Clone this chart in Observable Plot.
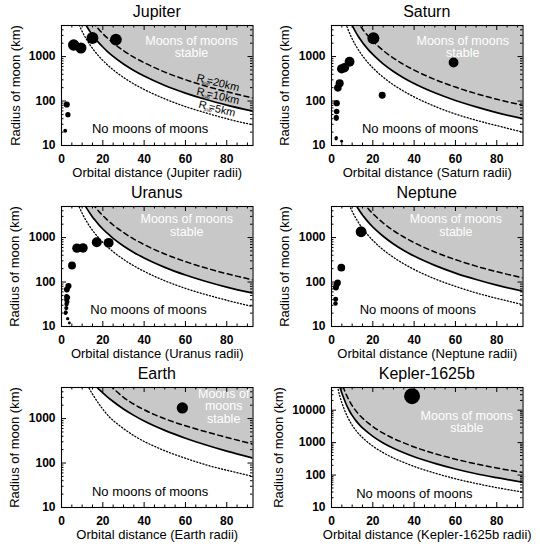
<!DOCTYPE html>
<html><head><meta charset="utf-8">
<script src="https://cdn.jsdelivr.net/npm/d3@7"></script>
<script src="https://cdn.jsdelivr.net/npm/@observablehq/plot@0.6"></script>
<style>
body{margin:0;background:#fff;}
#fig{position:relative;width:540px;height:549px;font-family:"Liberation Sans",Arial,Helvetica,sans-serif;overflow:hidden;background:#fff;}
.panel{position:absolute;width:270px;height:183px;}
.panel svg{position:absolute;top:0;left:0;}
.title{position:absolute;top:2px;left:61px;width:191.5px;text-align:center;font-size:16px;line-height:20px;color:#000;white-space:nowrap;z-index:2;}
</style></head><body><div id="fig"></div>
<script>
// ---------- tick values ----------
const xTicks = [0, 20, 40, 60, 80];
const xMinorTicks = [5, 10, 15, 25, 30, 35, 45, 50, 55, 65, 70, 75, 85, 90];
const yTicks = [10, 100, 1000];
const yMinorTicks = [20, 30, 40, 50, 60, 70, 80, 90, 200, 300, 400, 500, 600, 700, 800, 900, 2000, 3000, 4000];
const yTicksKepler = [10, 100, 1000, 10000];
const yMinorTicksKepler = [20, 30, 40, 50, 60, 70, 80, 90, 200, 300, 400, 500, 600, 700, 800, 900, 2000, 3000, 4000, 5000, 6000, 7000, 8000, 9000, 20000, 30000, 40000];

// ---------- panel names / labels ----------
const panelNames = ["Jupiter", "Saturn", "Uranus", "Neptune", "Earth", "Kepler-1625b"];
const xAxisLabels = ["Orbital distance (Jupiter radii)", "Orbital distance (Saturn radii)", "Orbital distance (Uranus radii)", "Orbital distance (Neptune radii)", "Orbital distance (Earth radii)", "Orbital distance (Kepler-1625b radii)"];
const yAxisLabel = "Radius of moon (km)";
const subLabelValues = ["20km", "10km", "5km"];

// ---------- moons (orbital distance, radius km) ----------
const jupiterMoonDist = [1.79, 2.54, 3.11, 5.90, 9.40, 14.97, 26.33];
const jupiterMoonRadius = [21.5, 83.5, 49.3, 1821.6, 1560.8, 2631.2, 2410.3];
const saturnMoonDist = [2.22, 2.29, 2.31, 2.35, 2.51, 2.51, 3.08, 3.95, 4.89, 4.89, 6.26, 8.74, 20.27, 24.55, 59.09];
const saturnMoonRadius = [14.1, 15.1, 43.1, 40.7, 58.1, 89.5, 198.2, 252.1, 531.1, 12.4, 561.4, 763.8, 2574.7, 135, 734.5];
const uranusMoonDist = [1.95, 2.10, 2.32, 2.42, 2.45, 2.52, 2.59, 2.74, 2.94, 2.99, 3.37, 3.81, 5.08, 7.47, 10.41, 17.07, 22.83];
const uranusMoonRadius = [20, 21, 26, 40, 32, 47, 68, 36, 45, 15, 81, 12, 236, 579, 585, 789, 761];
const neptuneMoonDist = [1.94, 2.02, 2.13, 2.50, 2.98, 4.75, 14.33];
const neptuneMoonRadius = [33, 41, 75, 88, 97, 210, 1353];
const earthMoonDist = [58.5];
const earthMoonRadius = [1737];
const keplerMoonDist = [39];
const keplerMoonRadius = [27000];

// ---------- stability curves ----------
const jupiter10kmX = [11, 12, 13, 14, 15, 16, 18, 20, 22, 25, 30, 35, 40, 50, 60, 70, 80, 92.7];
const jupiter10kmY = [5990, 4960, 4170, 3550, 3050, 2660, 2060, 1640, 1330, 1010, 680, 486, 364, 224, 151, 108, 81, 59];
const jupiter20kmX = [15, 16, 17, 18, 20, 22, 25, 30, 35, 40, 50, 60, 70, 80, 92.7];
const jupiter20kmY = [6100, 5320, 4660, 4120, 3280, 2670, 2020, 1360, 970, 730, 448, 302, 216, 162, 117];
const jupiter5kmX = [8, 9, 10, 11, 12, 13, 14, 15, 16, 18, 20, 22, 25, 30, 35, 40, 50, 60, 70, 80, 92.7];
const jupiter5kmY = [5980, 4630, 3680, 2990, 2480, 2080, 1770, 1530, 1330, 1030, 820, 666, 504, 340, 243, 182, 112, 75, 54, 40, 29];

const saturn10kmX = [9, 10, 11, 12, 13, 14, 15, 16, 18, 20, 22, 25, 30, 35, 40, 50, 60, 70, 80, 92.7];
const saturn10kmY = [6310, 5020, 4080, 3380, 2840, 2420, 2080, 1810, 1400, 1120, 908, 687, 463, 331, 248, 153, 103, 74, 55, 40];
const saturn20kmX = [12, 13, 14, 15, 16, 18, 20, 22, 25, 30, 35, 40, 50, 60, 70, 80, 92.7];
const saturn20kmY = [6760, 5680, 4830, 4160, 3620, 2800, 2230, 1820, 1370, 926, 662, 496, 306, 206, 147, 110, 80];
const saturn5kmX = [6, 7, 8, 9, 10, 11, 12, 14, 16, 18, 20, 22, 25, 30, 35, 40, 50, 60, 70, 80, 92.7];
const saturn5kmY = [7600, 5440, 4070, 3150, 2510, 2040, 1690, 1210, 906, 701, 558, 454, 344, 231, 166, 124, 76, 51, 37, 28, 20];

const uranus10kmX = [11, 12, 13, 14, 15, 16, 18, 20, 22, 25, 30, 35, 40, 50, 60, 70, 80, 92.7];
const uranus10kmY = [5710, 4730, 3980, 3380, 2910, 2540, 1960, 1560, 1270, 962, 648, 464, 347, 214, 144, 103, 77, 56];
const uranus20kmX = [15, 16, 17, 18, 20, 22, 25, 30, 35, 40, 50, 60, 70, 80, 92.7];
const uranus20kmY = [5820, 5070, 4450, 3930, 3130, 2540, 1920, 1300, 927, 694, 428, 288, 206, 154, 112];
const uranus5kmX = [8, 9, 10, 11, 12, 13, 14, 16, 18, 20, 22, 25, 30, 35, 40, 50, 60, 70, 80, 92.7];
const uranus5kmY = [5700, 4420, 3510, 2860, 2370, 1990, 1690, 1270, 981, 781, 636, 481, 324, 232, 174, 107, 72, 52, 39, 28];

const neptune10kmX = [11, 12, 13, 14, 15, 16, 18, 20, 22, 25, 30, 35, 40, 50, 60, 70, 80, 92.7];
const neptune10kmY = [6320, 5240, 4400, 3750, 3220, 2810, 2170, 1730, 1410, 1070, 717, 513, 384, 237, 159, 114, 85, 62];
const neptune20kmX = [15, 16, 17, 18, 20, 22, 25, 30, 35, 40, 50, 60, 70, 80, 92.7];
const neptune20kmY = [6450, 5620, 4920, 4350, 3460, 2820, 2130, 1440, 1030, 769, 474, 319, 228, 171, 124];
const neptune5kmX = [8, 9, 10, 11, 12, 13, 14, 16, 18, 20, 22, 25, 30, 35, 40, 50, 60, 70, 80, 92.7];
const neptune5kmY = [6320, 4890, 3890, 3160, 2620, 2200, 1870, 1400, 1090, 865, 704, 533, 359, 257, 192, 118, 80, 57, 43, 31];

const earth10kmX = [16, 16.5, 18, 20, 22, 25, 30, 35, 40, 50, 60, 70, 80, 92.7];
const earth10kmY = [5800, 5460, 4610, 3780, 3130, 2420, 1640, 1180, 880, 542, 362, 254, 185, 129];
const earth20kmX = [23.5, 24, 25, 27, 30, 35.7, 40, 45.3, 50, 54.9, 60, 66.2, 75.8, 85.4, 92.7];
const earth20kmY = [5700, 5400, 4830, 3950, 3000, 2020, 1580, 1210, 990, 820, 690, 565, 425, 325, 265];
const earth5kmX = [12.7, 13.2, 16, 19.6, 23, 27.6, 35.7, 46.9, 59.8, 72.6, 85.4, 92.7];
const earth5kmY = [5600, 5000, 3000, 1720, 1110, 726, 396, 217, 129, 84, 60, 50];

const kepler10kmX = [3.8, 4, 4.5, 5, 6, 7, 8, 9, 10, 12, 14, 16, 18, 20, 25, 30, 35, 40, 50, 60, 70, 80, 92.7];
const kepler10kmY = [61400, 55000, 42500, 33900, 22800, 15800, 11600, 8800, 6900, 4600, 3300, 2500, 1950, 1560, 980, 670, 490, 368, 229, 154, 110, 83, 60];
const kepler20kmX = [5.5, 6, 7, 8, 9, 10, 12, 14, 16, 18, 20, 25, 30, 35, 40, 50, 60, 70, 80, 92.7];
const kepler20kmY = [55000, 45600, 31600, 23200, 17600, 13800, 9200, 6600, 5000, 3900, 3120, 1960, 1340, 980, 736, 458, 309, 221, 165, 120];
const kepler5kmX = [2.9, 3.5, 4, 4.5, 5, 6, 7, 8, 9, 10, 12, 14, 16, 18, 20, 25, 30, 35, 40, 50, 60, 70, 80, 92.7];
const kepler5kmY = [55200, 36700, 27500, 21300, 16900, 11400, 7900, 5800, 4400, 3450, 2300, 1650, 1250, 975, 780, 490, 335, 245, 184, 115, 77, 55, 41, 30];

// ---------- build ----------
const zip = (xs, ys) => xs.map((x, i) => ({x, y: ys[i]}));
const moonsOf = (xs, rs) => xs.map((x, i) => ({x, y: rs[i], r: rs[i]}));

const panels = [
  {name: 0, left: 0, top: 0, c10: [jupiter10kmX, jupiter10kmY], c20: [jupiter20kmX, jupiter20kmY], c5: [jupiter5kmX, jupiter5kmY],
   moons: [jupiterMoonDist, jupiterMoonRadius], stable: {x: 62.9, y: 1650, text: "Moons of moons\nstable"}, none: {x: 42.9, y: 23.5}, sub: true, ylx: -46},
  {name: 1, left: 270, top: 0, c10: [saturn10kmX, saturn10kmY], c20: [saturn20kmX, saturn20kmY], c5: [saturn5kmX, saturn5kmY],
   moons: [saturnMoonDist, saturnMoonRadius], stable: {x: 63.5, y: 1650, text: "Moons of moons\nstable"}, none: {x: 42.9, y: 23.5}, ylx: -47},
  {name: 2, left: 0, top: 181, c10: [uranus10kmX, uranus10kmY], c20: [uranus20kmX, uranus20kmY], c5: [uranus5kmX, uranus5kmY],
   moons: [uranusMoonDist, uranusMoonRadius], stable: {x: 60.6, y: 1850, text: "Moons of moons\nstable"}, none: {x: 42.1, y: 23.7}, ylx: -47},
  {name: 3, left: 270, top: 181, c10: [neptune10kmX, neptune10kmY], c20: [neptune20kmX, neptune20kmY], c5: [neptune5kmX, neptune5kmY],
   moons: [neptuneMoonDist, neptuneMoonRadius], stable: {x: 60.2, y: 1850, text: "Moons of moons\nstable"}, none: {x: 41.8, y: 23.5}, ylx: -47},
  {name: 4, left: 0, top: 362, c10: [earth10kmX, earth10kmY], c20: [earth20kmX, earth20kmY], c5: [earth5kmX, earth5kmY],
   moons: [earthMoonDist, earthMoonRadius], stable: {x: 78.5, y: 1870, text: "Moons of\nmoons\nstable"}, none: {x: 42.9, y: 23}, ylx: -47},
  {name: 5, left: 270, top: 362, c10: [kepler10kmX, kepler10kmY], c20: [kepler20kmX, kepler20kmY], c5: [kepler5kmX, kepler5kmY],
   moons: [keplerMoonDist, keplerMoonRadius], stable: {x: 65.5, y: 4390, text: "Moons of moons\nstable"}, none: {x: 40.1, y: 26.4}, kepler: true, ylx: -52.5}
];

const FONT = "'Liberation Sans', Arial, Helvetica, sans-serif";
const W = 270, H = 183, mL = 61, mR = 17.5, mT = 25, mB = 38;
const FW = W - mL - mR, FH = H - mT - mB;

function subLabelMarks(x, y, value, angle) {
  const t = angle * Math.PI / 180, c = Math.cos(t), s = Math.sin(t);
  const off = (a, p) => ({dx: a * c - p * s, dy: a * s + p * c});
  const d = [{x, y}];
  const base = {x: "x", y: "y", textAnchor: "start", lineAnchor: "middle", rotate: angle, fill: "black", fontFamily: FONT};
  return [
    Plot.text(d, {...base, text: () => "R", fontSize: 11, ...off(0, 0)}),
    Plot.text(d, {...base, text: () => "sub", fontSize: 4.8, ...off(6.3, 3.3)}),
    Plot.text(d, {...base, text: () => "=" + value, fontSize: 11, ...off(10.3, 0)})
  ];
}

function makePanel(p) {
  const solid = zip(...p.c10), dashed = zip(...p.c20), dotted = zip(...p.c5);
  const moons = moonsOf(...p.moons);
  const yDomain = p.kepler ? [10, 50000] : [10, 5000];
  const yT = p.kepler ? yTicksKepler : yTicks;
  const yM = p.kepler ? yMinorTicksKepler : yMinorTicks;
  const marks = [
    Plot.areaY(solid, {x: "x", y1: "y", y2: yDomain[1] * 100, fill: "#c8c8c8", curve: "monotone-x", clip: true}),
    Plot.line(dashed, {x: "x", y: "y", stroke: "black", strokeWidth: 1.5, strokeDasharray: "5,3.6", curve: "monotone-x", clip: true}),
    Plot.line(solid, {x: "x", y: "y", stroke: "black", strokeWidth: 1.7, curve: "monotone-x", clip: true}),
    Plot.line(dotted, {x: "x", y: "y", stroke: "black", strokeWidth: 1.3, strokeDasharray: "1.1,2.1", curve: "monotone-x", clip: true}),
    Plot.text([p.stable], {x: "x", y: "y", text: "text", fill: "white", fontSize: 12.5, lineHeight: 1, fontFamily: FONT}),
    Plot.text([p.none], {x: "x", y: "y", text: () => "No moons of moons", fill: "black", fontSize: 13, fontFamily: FONT}),
    Plot.dot(moons, {x: "x", y: "y", r: "r", fill: "black"}),
    // inward ticks on all four sides
    Plot.tickX(xTicks, {x: d => d, insetTop: FH - 5, stroke: "black"}),
    Plot.tickX(xTicks, {x: d => d, insetBottom: FH - 5, stroke: "black"}),
    Plot.tickX(xMinorTicks, {x: d => d, insetTop: FH - 2.5, stroke: "black"}),
    Plot.tickX(xMinorTicks, {x: d => d, insetBottom: FH - 2.5, stroke: "black"}),
    Plot.tickY(yT, {y: d => d, insetRight: FW - 5, stroke: "black"}),
    Plot.tickY(yT, {y: d => d, insetLeft: FW - 5, stroke: "black"}),
    Plot.tickY(yM, {y: d => d, insetRight: FW - 2.5, stroke: "black"}),
    Plot.tickY(yM, {y: d => d, insetLeft: FW - 2.5, stroke: "black"}),
    Plot.frame({stroke: "black", strokeWidth: 1.1}),
    Plot.axisX(xTicks, {tickSize: 0, tickPadding: 8.5, fontSize: 12, fontWeight: "bold", label: null, fontFamily: FONT}),
    Plot.axisY(yT, {tickSize: 0, tickPadding: 6, fontSize: 12, fontWeight: "bold", label: null, tickFormat: d => String(d), fontFamily: FONT}),
    Plot.text([xAxisLabels[p.name]], {frameAnchor: "bottom", textAnchor: "middle", lineAnchor: "middle", dy: 27.5, text: d => d, fontSize: 13, fontFamily: FONT}),
    Plot.text([yAxisLabel], {frameAnchor: "left", textAnchor: "middle", lineAnchor: "middle", dx: p.ylx, rotate: -90, text: d => d, fontSize: 13, fontFamily: FONT})
  ];
  if (p.sub) {
    marks.push(...subLabelMarks(65.5, 337, subLabelValues[0], 14));
    marks.push(...subLabelMarks(65.5, 167, subLabelValues[1], 13));
    marks.push(...subLabelMarks(66.5, 85, subLabelValues[2], 14));
  }
  return Plot.plot({
    width: W, height: H,
    marginLeft: mL, marginRight: mR, marginTop: mT, marginBottom: mB,
    x: {domain: [0, 92.7]},
    y: {type: "log", domain: yDomain},
    r: {type: "log", domain: [10, 3000], range: [1.3, 6.1]},
    style: {fontFamily: FONT, fontSize: "12px", background: "transparent", color: "black", overflow: "visible"},
    marks
  });
}

const fig = document.getElementById("fig");
for (const p of panels) {
  const div = document.createElement("div");
  div.className = "panel";
  div.style.left = p.left + "px";
  div.style.top = p.top + "px";
  div.appendChild(makePanel(p));
  const t = document.createElement("div");
  t.className = "title";
  t.textContent = panelNames[p.name];
  div.appendChild(t);
  fig.appendChild(div);
}
</script></body></html>
